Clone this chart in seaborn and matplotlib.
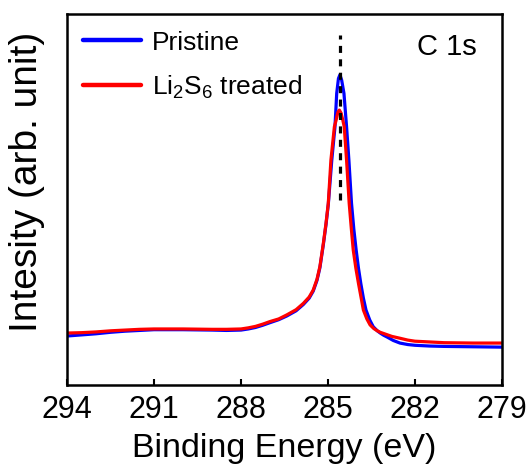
import matplotlib
matplotlib.use("Agg")
import matplotlib.pyplot as plt
import seaborn as sns
import pandas as pd
from matplotlib.lines import Line2D

# ---- data ----
pristine_energy = [294.0, 293.5, 293.0, 292.5, 292.0, 291.5, 291.0, 290.0, 289.0, 288.5,
                   288.0, 287.75, 287.5, 287.25, 287.0, 286.7, 286.42, 286.1, 285.85,
                   285.65, 285.51, 285.38, 285.28, 285.16, 285.07, 284.99, 284.87, 284.76,
                   284.70, 284.64, 284.59, 284.53, 284.45, 284.36, 284.28, 284.19, 284.11,
                   284.03, 283.95, 283.87, 283.78, 283.69, 283.56, 283.44, 283.3, 283.2,
                   283.08, 282.98, 282.75, 282.52, 282.25, 282.0, 281.5, 281.0, 280.0, 279.0]
pristine_intensity = [0.132, 0.135, 0.138, 0.142, 0.145, 0.147, 0.149, 0.149, 0.148, 0.147,
                      0.148, 0.151, 0.155, 0.161, 0.168, 0.176, 0.186, 0.200, 0.217,
                      0.234, 0.253, 0.282, 0.316, 0.379, 0.432, 0.487, 0.606, 0.696,
                      0.786, 0.826, 0.836, 0.822, 0.786, 0.696, 0.606, 0.490, 0.420,
                      0.364, 0.315, 0.274, 0.234, 0.202, 0.175, 0.157, 0.146, 0.140,
                      0.134, 0.130, 0.120, 0.113, 0.109, 0.107, 0.105, 0.104, 0.103, 0.102]

treated_energy = [294.0, 293.5, 293.0, 292.5, 292.0, 291.5, 291.0, 290.0, 289.0, 288.5,
                  288.0, 287.75, 287.5, 287.25, 287.0, 286.7, 286.42, 286.1, 285.85,
                  285.65, 285.51, 285.38, 285.28, 285.16, 285.07, 284.99, 284.90, 284.78,
                  284.72, 284.66, 284.61, 284.55, 284.49, 284.44, 284.36, 284.27, 284.2,
                  284.13, 284.04, 283.95, 283.86, 283.78, 283.66, 283.55, 283.42, 283.3,
                  283.2, 283.09, 282.8, 282.52, 282.25, 282.0, 281.5, 281.0, 280.0, 279.0]
treated_intensity = [0.140, 0.141, 0.143, 0.146, 0.148, 0.150, 0.151, 0.151, 0.150, 0.150,
                     0.151, 0.154, 0.158, 0.164, 0.171, 0.178, 0.189, 0.203, 0.220,
                     0.237, 0.256, 0.285, 0.319, 0.382, 0.435, 0.490, 0.606, 0.696,
                     0.714, 0.735, 0.741, 0.733, 0.714, 0.696, 0.606, 0.490, 0.425,
                     0.364, 0.315, 0.274, 0.236, 0.202, 0.178, 0.162, 0.152, 0.146,
                     0.142, 0.139, 0.131, 0.126, 0.121, 0.118, 0.116, 0.114, 0.113, 0.113]

series_names = ["Pristine", "Li$_2$S$_6$ treated"]
series_colors = ["#0000ff", "#ff0000"]
x_ticks = [294, 291, 288, 285, 282, 279]
peak_position = 284.6
peak_marker_range = [0.499, 0.943]

# ---- style ----
sns.set_theme(style="ticks")
plt.rcParams["font.family"] = ["Liberation Sans", "DejaVu Sans"]
plt.rcParams["mathtext.default"] = "regular"
plt.rcParams["text.color"] = "black"
plt.rcParams["axes.labelcolor"] = "black"
plt.rcParams["xtick.color"] = "black"
plt.rcParams["ytick.color"] = "black"

df = pd.concat([
    pd.DataFrame({"energy": pristine_energy, "intensity": pristine_intensity,
                  "sample": series_names[0]}),
    pd.DataFrame({"energy": treated_energy, "intensity": treated_intensity,
                  "sample": series_names[1]}),
], ignore_index=True)

fig = plt.figure(figsize=(5.31, 4.74), dpi=100)
ax = fig.add_axes([0.1262, 0.1878, 0.8192, 0.7827])

sns.lineplot(data=df, x="energy", y="intensity", hue="sample",
             palette=dict(zip(series_names, series_colors)),
             hue_order=series_names, estimator=None, sort=True,
             linewidth=2.3, legend=False, ax=ax)

ax.plot([peak_position, peak_position], peak_marker_range, color="black",
        linewidth=2.3, dashes=(2.2, 2.0), zorder=5)

ax.set_xlim(294, 279)
ax.set_ylim(0, 1)
ax.set_xticks(x_ticks)
ax.set_xticklabels([str(t) for t in x_ticks])
ax.set_yticks([])

for s in ax.spines.values():
    s.set_linewidth(1.8)
    s.set_color("black")

ax.tick_params(axis="x", direction="in", length=4.5, width=1.5, labelsize=22,
               pad=7, colors="black", labelcolor="black")
ax.tick_params(axis="y", left=False, labelleft=False)

ax.set_xlabel("Binding Energy (eV)", fontsize=24.5, labelpad=6, color="black")
ax.set_ylabel("Intesity (arb. unit)", fontsize=28, color="black")
ax.yaxis.set_label_coords(-0.05, 0.548)

handles = [Line2D([], [], color=c, linewidth=3.2, solid_capstyle="round")
           for c in series_colors]
leg = ax.legend(handles, series_names, loc="upper left", bbox_to_anchor=(0.036, 0.955),
                frameon=False, fontsize=19, handlelength=2.2, handletextpad=0.43,
                borderpad=0, borderaxespad=0, labelspacing=0.72)
for t in leg.get_texts():
    t.set_color("black")

ax.text(0.9425, 0.911, "C 1s", transform=ax.transAxes, ha="right", va="center",
        fontsize=21, color="black")

fig.savefig("out.png", dpi=100)
